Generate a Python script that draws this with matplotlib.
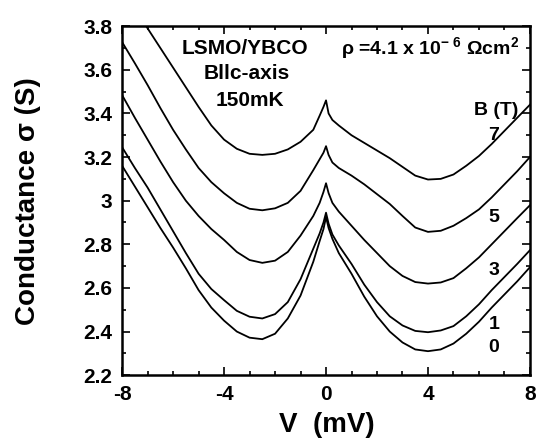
import numpy as np
import matplotlib
matplotlib.use('Agg')
import matplotlib.pyplot as plt
from matplotlib.ticker import MultipleLocator

plt.rcParams['font.family'] = ['Liberation Sans', 'DejaVu Sans']
plt.rcParams['font.weight'] = 'bold'
plt.rcParams['mathtext.fontset'] = 'custom'
plt.rcParams['mathtext.rm'] = 'Liberation Sans:bold'
plt.rcParams['mathtext.it'] = 'Liberation Sans:bold'
plt.rcParams['mathtext.bf'] = 'Liberation Sans:bold'

# bias voltage (mV)
v = [-8, -7.5, -7, -6.5, -6, -5.5, -5, -4.5, -4, -3.5, -3, -2.5, -2, -1.5, -1, -0.5, -0.25, -0.1, 0,
     0.1, 0.25, 0.5, 1, 1.5, 2, 2.5, 3, 3.5, 4, 4.5, 5, 5.5, 6, 6.5, 7, 7.5, 8]

# conductance (S) for each field
g0 = [3.16, 3.065, 2.97, 2.875, 2.785, 2.69, 2.59, 2.51, 2.45, 2.40, 2.372, 2.365, 2.39, 2.46, 2.565,
      2.72, 2.815, 2.87, 2.925,
      2.875, 2.825, 2.76, 2.665, 2.56, 2.47, 2.40, 2.35, 2.318, 2.31, 2.318, 2.345, 2.39, 2.445,
      2.51, 2.57, 2.63, 2.695]
g1 = [3.245, 3.15, 3.06, 2.96, 2.86, 2.76, 2.665, 2.595, 2.544, 2.495, 2.468, 2.46, 2.48, 2.535, 2.64,
      2.78, 2.85, 2.90, 2.945,
      2.895, 2.845, 2.795, 2.71, 2.615, 2.535, 2.47, 2.428, 2.403, 2.397, 2.405, 2.425, 2.47, 2.525,
      2.59, 2.65, 2.71, 2.773]
g3 = [3.484, 3.38, 3.28, 3.18, 3.085, 3.0, 2.93, 2.87, 2.82, 2.765, 2.728, 2.715, 2.725, 2.765, 2.84,
      2.93, 2.99, 3.04, 3.08,
      3.035, 2.99, 2.95, 2.885, 2.82, 2.76, 2.70, 2.655, 2.627, 2.62, 2.625, 2.645, 2.69, 2.74,
      2.80, 2.86, 2.92, 2.979]
g5 = [3.727, 3.63, 3.53, 3.425, 3.325, 3.235, 3.15, 3.085, 3.034, 2.99, 2.963, 2.956, 2.965, 2.99, 3.045,
      3.14, 3.19, 3.22, 3.25,
      3.21, 3.175, 3.15, 3.115, 3.075, 3.03, 2.985, 2.93, 2.877, 2.857, 2.862, 2.885, 2.92, 2.96,
      3.015, 3.075, 3.135, 3.20]
g7 = [3.97, 3.88, 3.79, 3.70, 3.61, 3.52, 3.43, 3.345, 3.28, 3.238, 3.215, 3.21, 3.215, 3.235, 3.27,
      3.325, 3.39, 3.43, 3.46,
      3.40, 3.37, 3.345, 3.30, 3.265, 3.23, 3.195, 3.155, 3.115, 3.097, 3.10, 3.12, 3.16, 3.205,
      3.26, 3.32, 3.38, 3.44]

curves = [g0, g1, g3, g5, g7]
field_labels = ['0', '1', '3', '5', '7']
label_y = [2.328, 2.433, 2.681, 2.924, 3.30]

xticks = [-8, -4, 0, 4, 8]
xticklabels = ['-8', '-4', '0', '4', '8']
yticks = [2.2, 2.4, 2.6, 2.8, 3.0, 3.2, 3.4, 3.6, 3.8]
yticklabels = ['2.2', '2.4', '2.6', '2.8', '3', '3.2', '3.4', '3.6', '3.8']

fig = plt.figure(figsize=(5.38, 4.44), dpi=100)
ax = fig.add_axes([0.227, 0.155, 0.758, 0.786])

for g in curves:
    ax.plot(v, g, color='black', lw=1.3)

ax.set_xlim(-8, 8)
ax.set_ylim(2.2, 3.8)
ax.set_xticks(xticks)
ax.set_xticklabels(xticklabels)
ax.set_yticks(yticks)
ax.set_yticklabels(yticklabels)
ax.xaxis.set_minor_locator(MultipleLocator(1))
ax.yaxis.set_minor_locator(MultipleLocator(0.1))
ax.tick_params(which='both', direction='in', top=True, right=True, width=1.2)
ax.tick_params(which='major', length=6, labelsize=15, pad=7)
ax.tick_params(which='minor', length=3)
for s in ax.spines.values():
    s.set_linewidth(1.8)

ax.set_xlabel('V  (mV)', fontsize=20, fontweight='bold')
ax.xaxis.set_label_coords(0.502, -0.105)
ax.set_ylabel('Conductance σ (S)', fontsize=20, fontweight='bold')
ax.yaxis.set_label_coords(-0.20, 0.5)

ax.text(0.30, 0.937, 'LSMO/YBCO', transform=ax.transAxes, ha='center', va='center', fontsize=15)
ax.text(0.306, 0.865, 'Bllc-axis', transform=ax.transAxes, ha='center', va='center', fontsize=15)
ax.text(0.314, 0.788, '150mK', transform=ax.transAxes, ha='center', va='center', fontsize=15)
ax.text(0.755, 0.937, r'$\rho$ =4.1 x 10$^{-\ 6}$ $\Omega$cm$^{2}$', transform=ax.transAxes,
        ha='center', va='center', fontsize=14)

ax.text(6.67, 3.415, 'B (T)', ha='center', va='center', fontsize=14)
for lab, y in zip(field_labels, label_y):
    ax.text(6.58, y, lab, ha='center', va='center', fontsize=14)

fig.savefig('out.png', dpi=100)
